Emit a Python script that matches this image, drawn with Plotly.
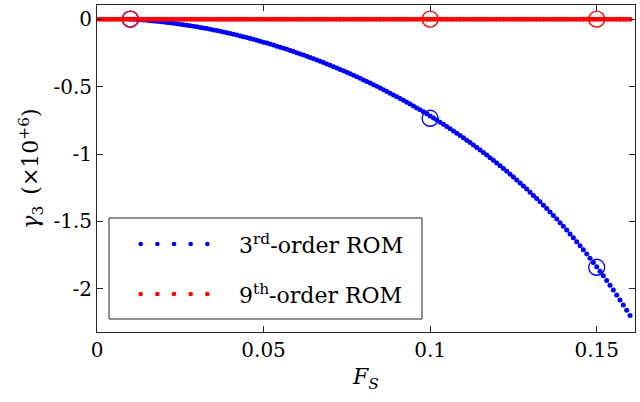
import plotly.graph_objects as go

# ---------------- data ----------------
# F_S sampling grid, 0.000 ... 0.160
fs_grid = [
    0.000, 0.001, 0.002, 0.003, 0.004, 0.005, 0.006, 0.007, 0.008, 0.009,
    0.010, 0.011, 0.012, 0.013, 0.014, 0.015, 0.016, 0.017, 0.018, 0.019,
    0.020, 0.021, 0.022, 0.023, 0.024, 0.025, 0.026, 0.027, 0.028, 0.029,
    0.030, 0.031, 0.032, 0.033, 0.034, 0.035, 0.036, 0.037, 0.038, 0.039,
    0.040, 0.041, 0.042, 0.043, 0.044, 0.045, 0.046, 0.047, 0.048, 0.049,
    0.050, 0.051, 0.052, 0.053, 0.054, 0.055, 0.056, 0.057, 0.058, 0.059,
    0.060, 0.061, 0.062, 0.063, 0.064, 0.065, 0.066, 0.067, 0.068, 0.069,
    0.070, 0.071, 0.072, 0.073, 0.074, 0.075, 0.076, 0.077, 0.078, 0.079,
    0.080, 0.081, 0.082, 0.083, 0.084, 0.085, 0.086, 0.087, 0.088, 0.089,
    0.090, 0.091, 0.092, 0.093, 0.094, 0.095, 0.096, 0.097, 0.098, 0.099,
    0.100, 0.101, 0.102, 0.103, 0.104, 0.105, 0.106, 0.107, 0.108, 0.109,
    0.110, 0.111, 0.112, 0.113, 0.114, 0.115, 0.116, 0.117, 0.118, 0.119,
    0.120, 0.121, 0.122, 0.123, 0.124, 0.125, 0.126, 0.127, 0.128, 0.129,
    0.130, 0.131, 0.132, 0.133, 0.134, 0.135, 0.136, 0.137, 0.138, 0.139,
    0.140, 0.141, 0.142, 0.143, 0.144, 0.145, 0.146, 0.147, 0.148, 0.149,
    0.150, 0.151, 0.152, 0.153, 0.154, 0.155, 0.156, 0.157, 0.158, 0.159,
    0.160,
]

# 3rd-order ROM, gamma_3 (x1e6), F_S = 0.010 ... 0.160
fs_rom3 = fs_grid[10:]
gamma3_rom3 = [
    0.0000, -0.0015, -0.0031, -0.0049, -0.0068, -0.0089, -0.0111, -0.0134, -0.0159, -0.0185,
    -0.0213, -0.0242, -0.0273, -0.0305, -0.0338, -0.0373, -0.0409, -0.0447, -0.0486, -0.0526,
    -0.0568, -0.0611, -0.0656, -0.0702, -0.0750, -0.0799, -0.0849, -0.0901, -0.0954, -0.1009,
    -0.1065, -0.1123, -0.1182, -0.1242, -0.1304, -0.1368, -0.1432, -0.1498, -0.1566, -0.1635,
    -0.1705, -0.1777, -0.1850, -0.1925, -0.2001, -0.2079, -0.2158, -0.2239, -0.2321, -0.2404,
    -0.2489, -0.2575, -0.2663, -0.2753, -0.2844, -0.2936, -0.3030, -0.3125, -0.3222, -0.3320,
    -0.3420, -0.3521, -0.3624, -0.3729, -0.3835, -0.3942, -0.4051, -0.4162, -0.4274, -0.4388,
    -0.4503, -0.4620, -0.4739, -0.4859, -0.4981, -0.5105, -0.5230, -0.5357, -0.5486, -0.5617,
    -0.5749, -0.5883, -0.6019, -0.6157, -0.6296, -0.6438, -0.6581, -0.6726, -0.6873, -0.7022,
    -0.7173, -0.7326, -0.7482, -0.7639, -0.7798, -0.7960, -0.8124, -0.8290, -0.8458, -0.8628,
    -0.8801, -0.8976, -0.9154, -0.9334, -0.9517, -0.9703, -0.9891, -1.0081, -1.0275, -1.0471,
    -1.0670, -1.0872, -1.1077, -1.1285, -1.1496, -1.1711, -1.1928, -1.2149, -1.2374, -1.2602,
    -1.2833, -1.3069, -1.3307, -1.3550, -1.3797, -1.4048, -1.4303, -1.4562, -1.4825, -1.5093,
    -1.5366, -1.5643, -1.5925, -1.6212, -1.6504, -1.6801, -1.7104, -1.7411, -1.7725, -1.8044,
    -1.8369, -1.8700, -1.9037, -1.9381, -1.9731, -2.0088, -2.0451, -2.0822, -2.1200, -2.1585,
    -2.1978,
]

# 9th-order ROM, gamma_3 (x1e6), F_S = 0.000 ... 0.160
fs_rom9 = fs_grid
gamma3_rom9 = [
    0, 0, 0, 0, 0, 0, 0, 0, 0, 0, 0, 0, 0, 0, 0, 0, 0, 0, 0, 0,
    0, 0, 0, 0, 0, 0, 0, 0, 0, 0, 0, 0, 0, 0, 0, 0, 0, 0, 0, 0,
    0, 0, 0, 0, 0, 0, 0, 0, 0, 0, 0, 0, 0, 0, 0, 0, 0, 0, 0, 0,
    0, 0, 0, 0, 0, 0, 0, 0, 0, 0, 0, 0, 0, 0, 0, 0, 0, 0, 0, 0,
    0, 0, 0, 0, 0, 0, 0, 0, 0, 0, 0, 0, 0, 0, 0, 0, 0, 0, 0, 0,
    0, 0, 0, 0, 0, 0, 0, 0, 0, 0, 0, 0, 0, 0, 0, 0, 0, 0, 0, 0,
    0, 0, 0, 0, 0, 0, 0, 0, 0, 0, 0, 0, 0, 0, 0, 0, 0, 0, 0, 0,
    0, 0, 0, 0, 0, 0, 0, 0, 0, 0, 0, 0, 0, 0, 0, 0, 0, 0, 0, 0,
    0,
]

# highlighted sample points (open circles)
fs_marked = [0.01, 0.10, 0.15]
gamma3_rom3_marked = [0.0, -0.735, -1.840]
gamma3_rom9_marked = [0.0, 0.0, 0.0]

x_tickvals = [0, 0.05, 0.10, 0.15]
x_ticktext = ["0", "0.05", "0.1", "0.15"]
y_tickvals = [0, -0.5, -1, -1.5, -2]
y_ticktext = ["0", "-0.5", "-1", "-1.5", "-2"]

legend_labels = ["3<sup>rd</sup>-order ROM", "9<sup>th</sup>-order ROM"]

# ---------------- style ----------------
BLUE = "#0000FF"
RED = "#FF0000"
AXC = "#262626"
FONT = "DejaVu Serif"

fig = go.Figure()
fig.add_trace(go.Scatter(x=fs_rom3, y=gamma3_rom3, mode="markers",
                         marker=dict(color=BLUE, size=5, line=dict(width=0)),
                         name="3rd-order ROM", showlegend=False))
fig.add_trace(go.Scatter(x=fs_rom9, y=gamma3_rom9, mode="markers",
                         marker=dict(color=RED, size=5, line=dict(width=0)),
                         name="9th-order ROM", showlegend=False))
fig.add_trace(go.Scatter(x=fs_marked, y=gamma3_rom3_marked, mode="markers",
                         marker=dict(symbol="circle-open", color=BLUE, size=16,
                                     line=dict(width=1.3, color=BLUE)),
                         showlegend=False))
fig.add_trace(go.Scatter(x=fs_marked, y=gamma3_rom9_marked, mode="markers",
                         marker=dict(symbol="circle-open", color=RED, size=16,
                                     line=dict(width=1.3, color=RED)),
                         showlegend=False))

axis_common = dict(showline=True, linecolor=AXC, linewidth=1, mirror="allticks",
                   ticks="inside", ticklen=6, tickcolor=AXC, tickwidth=1,
                   showgrid=False, zeroline=False,
                   tickfont=dict(family=FONT, size=20, color="black"))

fig.update_xaxes(range=[0, 0.1615], tickvals=x_tickvals, ticktext=x_ticktext,
                 title=dict(text="<i>F</i><sub><i>S</i></sub>",
                            font=dict(family=FONT, size=22, color="black"),
                            standoff=7),
                 **axis_common)
fig.update_yaxes(range=[-2.32, 0.105], tickvals=y_tickvals, ticktext=y_ticktext,
                 title=dict(text="<i>γ</i><sub>3</sub>\u2002(×10<sup>+6</sup>)",
                            font=dict(family=FONT, size=22, color="black"),
                            standoff=8),
                 **axis_common)

# ---- legend box (decoration, in paper coordinates) ----
W, H = 538.0, 327.0  # plot-area size in px
def px_x(p):
    return (p - 97.0) / W
def px_y(p):
    return (332.0 - p) / H

shapes = [dict(type="rect", xref="paper", yref="paper",
               x0=px_x(109), x1=px_x(422), y0=px_y(319), y1=px_y(218),
               line=dict(color=AXC, width=1), fillcolor="white", layer="above")]
legend_rows = [(244, BLUE), (294, RED)]
for yy, col in legend_rows:
    for k in range(5):
        shapes.append(dict(type="circle", xref="paper", yref="paper",
                           xsizemode="pixel", ysizemode="pixel",
                           xanchor=px_x(140.7 + k * 16.65), yanchor=px_y(yy),
                           x0=-2.3, x1=2.3, y0=-2.3, y1=2.3,
                           fillcolor=col, line=dict(width=0), layer="above"))
annotations = []
for (yy, col), lab in zip(legend_rows, legend_labels):
    annotations.append(dict(text=lab, xref="paper", yref="paper",
                            x=px_x(237), y=px_y(yy), xanchor="left", yanchor="middle",
                            showarrow=False,
                            font=dict(family=FONT, size=22, color="black")))

fig.update_layout(width=640, height=402,
                  margin=dict(l=97, r=5, t=5, b=70, autoexpand=False),
                  plot_bgcolor="white", paper_bgcolor="white",
                  showlegend=False, shapes=shapes, annotations=annotations,
                  font=dict(family=FONT, size=20, color="black"))

fig.write_html("out.html", config={"displayModeBar": False},
               post_script="document.body.style.margin='0';document.body.style.padding='0';")
